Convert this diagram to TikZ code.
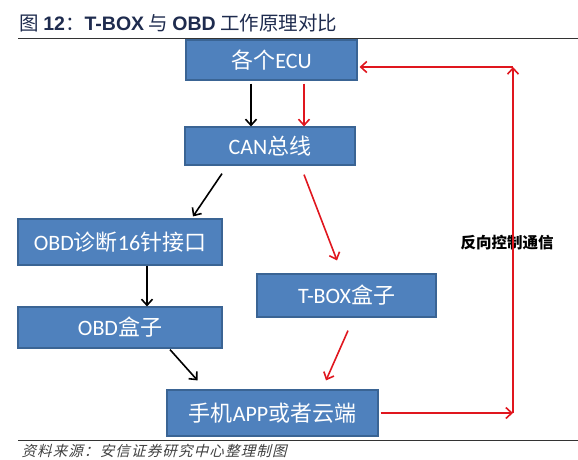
\documentclass[tikz,border=0pt]{standalone}
\usepackage{fontspec}
\usetikzlibrary{arrows.meta}
\newfontfamily\cjkfont{Noto Sans CJK SC}
\newfontfamily\latfont{Carlito}
\newfontfamily\headfont{Liberation Sans}
\newfontfamily\srcfont[FakeSlant=0.25,LetterSpace=8]{Noto Sans CJK SC}
\definecolor{boxblue}{HTML}{4F81BD}
\definecolor{boxline}{HTML}{3A6494}
\definecolor{linkred}{HTML}{E0161E}
\definecolor{headblue}{HTML}{1E2B4E}
\tikzset{
  box/.style={draw=boxline,fill=boxblue,line width=1.2pt,text=white,
    font=\cjkfont\fontsize{22}{22}\selectfont,inner sep=0pt},
  blkarrow/.style={-{Straight Barb[length=6pt,width=11pt]},line width=1.6pt,black},
  redarrow/.style={-{Straight Barb[length=6pt,width=11pt]},line width=1.6pt,linkred}
}
\begin{document}
\begin{tikzpicture}[x=1pt,y=-1pt]
        \useasboundingbox (0,0) rectangle (578,459);
        \node[anchor=west,text=headblue,font=\cjkfont\fontsize{19.5}{19.5}\selectfont] (title) at (16,23)
          {图 {\headfont\bfseries 12}：{\headfont\bfseries T-BOX} 与 {\headfont\bfseries OBD} 工作原理对比};
        \draw[line width=1pt,black!80] (18,38) -- (578,38);
        \draw[line width=1pt,black!80] (18,440) -- (578,440);
        \node[anchor=west,text=black!75,font=\srcfont\fontsize{14.5}{14.5}\selectfont] (source) at (18,451)
          {资料来源：安信证券研究中心整理制图};
        \node[box,minimum width=171,minimum height=40] at (271.5,60)   (ecu) {各个{\latfont ECU}};
        \node[box,minimum width=170,minimum height=38] at (270,146)    (can) {{\latfont CAN}总线};
        \node[box,minimum width=204,minimum height=46] at (120,242)    (obdport) {{\latfont OBD}诊断{\latfont 16}针接口};
        \node[box,minimum width=204,minimum height=41] at (120,327.5)  (obdbox) {{\latfont OBD}盒子};
        \node[box,minimum width=179,minimum height=43] at (346.5,295.5) (tbox) {{\latfont T-BOX}盒子};
        \node[box,minimum width=211,minimum height=46] at (272.5,413)  (app) {手机{\latfont APP}或者云端};
        \node[font=\cjkfont\bfseries\fontsize{15.5}{15.5}\selectfont] at (507,243) (reverse) {反向控制通信};
        \coordinate (lowturn) at (513,413);
        \coordinate (highturn) at (513,67);
        \draw[blkarrow] ([shift={(-20.5,3)}]ecu.south) -- ([shift={(-19,0)}]can.north);
        \draw[redarrow] ([shift={(32.5,3)}]ecu.south) -- ([shift={(34,0)}]can.north);
        \draw[blkarrow] ([shift={(-48,8)}]can.south) -- ([shift={(73,-2)}]obdport.north);
        \draw[redarrow] ([shift={(34,9)}]can.south) -- ([shift={(-9.5,-13)}]tbox.north);
        \draw[blkarrow] ([shift={(27,0)}]obdport.south) -- ([shift={(27,0)}]obdbox.north);
        \draw[blkarrow] ([shift={(50,1)}]obdbox.south) -- ([shift={(-75,-9)}]app.north);
        \draw[redarrow] ([shift={(1.5,13)}]tbox.south) -- ([shift={(53.5,-9)}]app.north);
        \draw[redarrow] ([xshift=2pt]app.east) -- (lowturn);
        \draw[redarrow] (lowturn) -- (highturn);
        \draw[redarrow,shorten >=2pt] (highturn) -- (ecu.east |- highturn);
      \end{tikzpicture}
\end{document}
